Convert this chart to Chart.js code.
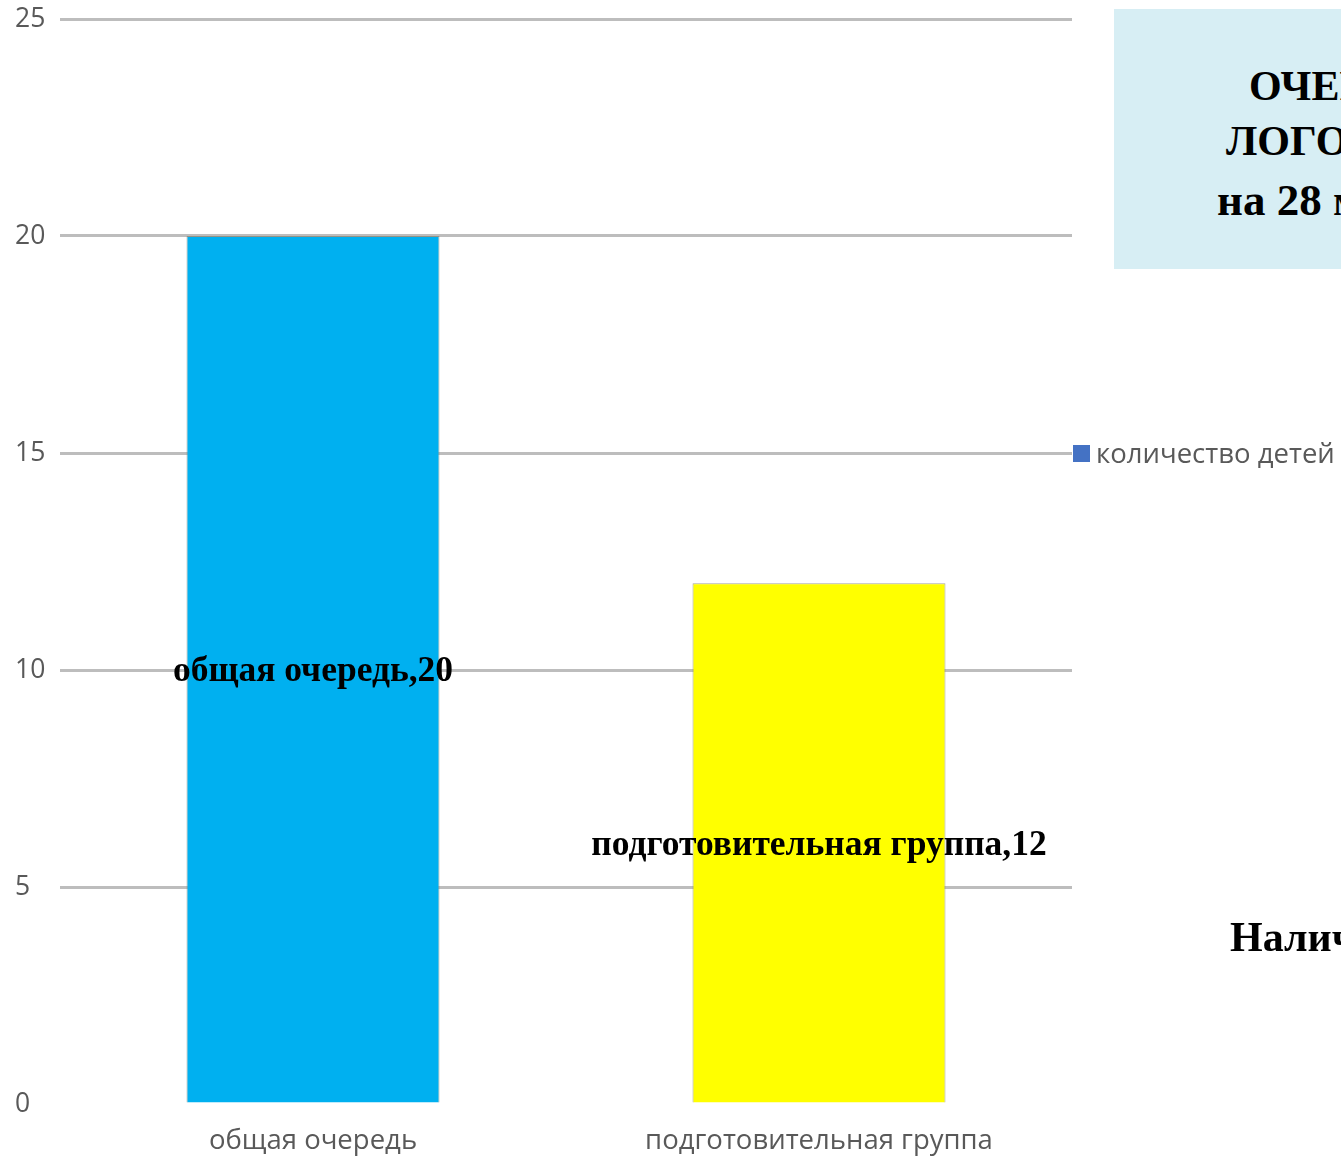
<!DOCTYPE html>
<html lang="ru">
<head>
<meta charset="utf-8">
<title>Очередь</title>
<script src="https://cdn.jsdelivr.net/npm/chart.js"></script>
<style>
  html, body { margin: 0; padding: 0; background: #fff; overflow: hidden; }
  #wrap { position: relative; width: 1341px; height: 1157px; }
  #titlebox {
    position: absolute; left: 1114px; top: 9px; width: 400px; height: 260px;
    background: #D7EEF4;
  }
  .big {
    position: absolute; white-space: nowrap;
    font-family: "Liberation Serif", "Times New Roman", serif; font-weight: bold;
    font-size: 42px; color: #000; line-height: 1;
  }
</style>
</head>
<body>
<div id="wrap">
  <canvas id="chart" width="1341" height="1157"></canvas>
  <div id="titlebox"></div>
  <div class="big" style="left:1249px; top:65px;">ОЧЕРЕДЬ</div>
  <div class="big" style="left:1226px; top:120px;">ЛОГОПУНКТ</div>
  <div class="big" style="left:1217px; top:178px; font-size:45px;">на 28 мая</div>
  <div class="big" style="left:1230px; top:916px;">Наличие</div>
</div>
<script>
const categories = ['общая очередь', 'подготовительная группа'];
const counts = [20, 12];
const barColors = ['#00B0F0', '#FFFF00'];
const seriesName = 'количество детей';
const legendColor = '#4472C4';
const yTicks = [0, 5, 10, 15, 20, 25];

const textGray = '#595959';
const sansFamily = '"Open Sans", "Noto Sans", sans-serif';

// labels in the middle of each bar: "category,value"
const barLabels = {
  id: 'barLabels',
  afterDatasetsDraw(chart) {
    const ctx = chart.ctx;
    const meta = chart.getDatasetMeta(0);
    ctx.save();
    ctx.font = 'bold 35.5px "Liberation Serif", "Times New Roman", serif';
    ctx.fillStyle = '#000';
    ctx.textAlign = 'center';
    ctx.textBaseline = 'middle';
    meta.data.forEach((bar, i) => {
      const mid = (bar.y + bar.base) / 2;
      ctx.fillText(categories[i] + ',' + counts[i], bar.x, mid + 3);
    });
    ctx.restore();
  }
};

// legend on the right, level with the 15 gridline
const sideLegend = {
  id: 'sideLegend',
  afterDraw(chart) {
    const ctx = chart.ctx;
    const area = chart.chartArea;
    const y = chart.scales.y.getPixelForValue(15);
    ctx.save();
    ctx.fillStyle = legendColor;
    ctx.fillRect(area.right + 1, y - 8, 17, 17);
    ctx.font = '27.5px ' + sansFamily;
    ctx.fillStyle = textGray;
    ctx.textBaseline = 'middle';
    ctx.fillText(seriesName, area.right + 24, y + 2);
    ctx.restore();
  }
};

new Chart(document.getElementById('chart'), {
  type: 'bar',
  data: {
    labels: categories,
    datasets: [{
      label: seriesName,
      data: counts,
      backgroundColor: barColors,
      borderColor: 'rgba(130,130,110,0.7)',
      borderWidth: 1,
      barPercentage: 0.5,
      categoryPercentage: 1.0
    }]
  },
  options: {
    responsive: false,
    animation: false,
    layout: { padding: { top: 19, left: 15, right: 269, bottom: 0 } },
    plugins: {
      legend: { display: false },
      tooltip: { enabled: false }
    },
    scales: {
      x: {
        grid: { display: false, drawTicks: false },
        border: { display: false },
        ticks: { color: textGray, font: { family: sansFamily, size: 27.5 }, padding: 21, maxRotation: 0 },
        afterFit(s) { s.height = 53; }
      },
      y: {
        min: 0,
        max: 25,
        afterBuildTicks(s) { s.ticks = yTicks.map(v => ({ value: v })); },
        grid: {
          color: c => c.tick.value === 0 ? 'rgba(0,0,0,0)' : '#BDBDBD',
          lineWidth: 3,
          drawTicks: false
        },
        border: { display: false },
        ticks: { color: textGray, font: { family: sansFamily, size: 26.5 }, crossAlign: 'far', padding: 0 },
        afterFit(s) { s.width = 45; }
      }
    }
  },
  plugins: [barLabels, sideLegend]
});
</script>
</body>
</html>
